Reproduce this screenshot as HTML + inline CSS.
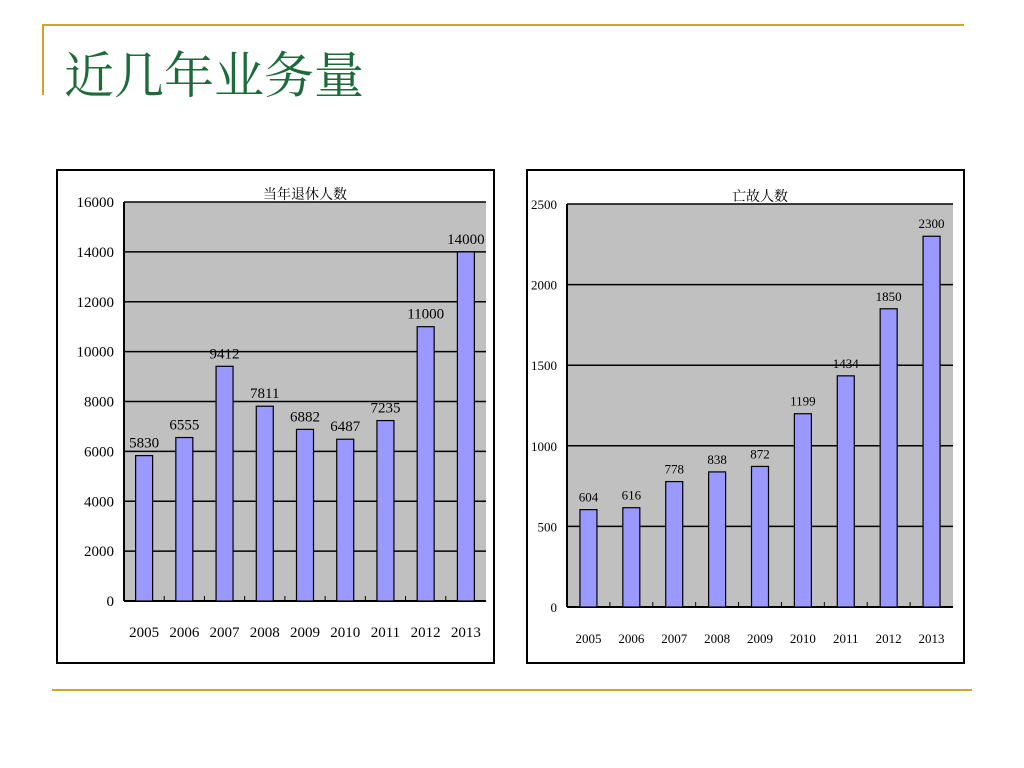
<!DOCTYPE html>
<html><head><meta charset="utf-8"><style>
html,body{margin:0;padding:0;background:#fff;width:1024px;height:768px;overflow:hidden}
svg text{font-family:"Liberation Serif","Noto Serif CJK SC",serif}
</style></head><body>
<svg id="s" width="1024" height="768" xmlns="http://www.w3.org/2000/svg">
<line x1="42" y1="25" x2="964" y2="25" stroke="#d4a32a" stroke-width="2"/>
<line x1="43" y1="25" x2="43" y2="95" stroke="#d4a32a" stroke-width="2"/>
<line x1="52" y1="690" x2="972" y2="690" stroke="#d4a32a" stroke-width="2"/>
<text x="64" y="93" font-size="50" fill="#1d6b3a" style="font-family:'Noto Serif CJK SC',serif">近几年业务量</text>
<rect x="57" y="170" width="437" height="493" fill="#fff" stroke="#000" stroke-width="2"/>
<rect x="527" y="170" width="437" height="493" fill="#fff" stroke="#000" stroke-width="2"/>
</svg>
<script>
const categories=["2005","2006","2007","2008","2009","2010","2011","2012","2013"];
const retireValues=[5830,6555,9412,7811,6882,6487,7235,11000,14000];
const deathValues=[604,616,778,838,872,1199,1434,1850,2300];
const retireTicks=[0,2000,4000,6000,8000,10000,12000,14000,16000];
const deathTicks=[0,500,1000,1500,2000,2500];
const NS="http://www.w3.org/2000/svg";
const svg=document.getElementById('s');
function mk(tag,attrs,parent){const e=document.createElementNS(NS,tag);for(const k in attrs)e.setAttribute(k,attrs[k]);(parent||svg).appendChild(e);return e;}
function chart(cfg){
  const g=mk('g',{});
  
  
  const {x0,x1,y0,y1,max}=cfg;
  const ys=v=>y0-(v/max)*(y0-y1);
  const bw=(x1-x0)/categories.length;
  const xc=i=>x0+bw*(i+0.5);
  const bg=mk('rect',{x:x0,y:y1,width:x1-x0,height:y0-y1,fill:'#c0c0c0'},g);
  
  
  cfg.ticks.forEach(t=>{
    if(t>0){const l=mk('line',{x1:x0,x2:x1,y1:ys(t),y2:ys(t),stroke:'#000','stroke-width':1.5},g);
    
    }
    const tx=mk('text',{x:x0-10,y:ys(t)+5,'font-size':cfg.fs,'text-anchor':'end'},g);
    tx.textContent=t;
    
    
  });
  mk('line',{x1:x0,x2:x0,y1:y1,y2:y0,stroke:'#000','stroke-width':2},g);
  mk('line',{x1:x0,x2:x1,y1:y0,y2:y0,stroke:'#000','stroke-width':2},g);
  const title=mk('text',{x:(x0+x1)/2,y:y1-3,'font-size':14,'text-anchor':'middle',style:"font-family:'Noto Serif CJK SC',serif"},g);
  title.textContent=cfg.title;
  
  
  cfg.values.forEach((v,i)=>{
    const b=mk('rect',{x:xc(i)-8.5,y:ys(v),width:17,height:y0-ys(v),fill:'#9999ff',stroke:'#000','stroke-width':1.2},g);
    
    
    const lb=mk('text',{x:xc(i),y:ys(v)-8,'font-size':cfg.fs,'text-anchor':'middle'},g);
    lb.textContent=v;
    
    
    const xl=mk('text',{x:xc(i),y:y0+36,'font-size':cfg.fs,'text-anchor':'middle'},g);
    xl.textContent=categories[i];
    
    
    if(i>0){mk('line',{x1:x0+bw*i,x2:x0+bw*i,y1:y0,y2:y0-5,stroke:'#000'},g);}
  });
}
chart({name:'retire-chart',x0:124,x1:486,y0:601,y1:202,max:16000,ticks:retireTicks,values:retireValues,title:'当年退休人数',fs:15});
chart({name:'death-chart',x0:567,x1:953,y0:607,y1:204,max:2500,ticks:deathTicks,values:deathValues,title:'亡故人数',fs:13});
</script>
</body></html>
